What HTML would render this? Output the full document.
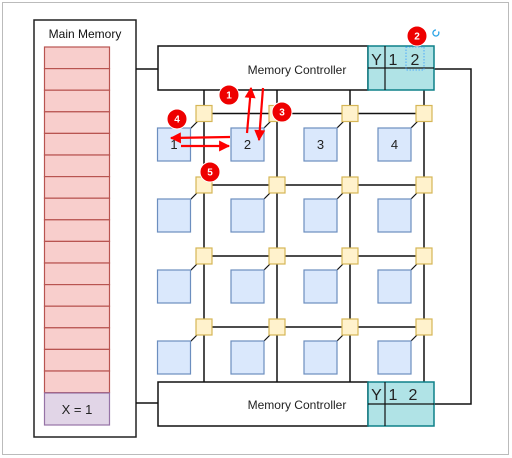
<!DOCTYPE html>
<html><head><style>body{margin:0;background:#fff}svg{display:block}text{font-family:"Liberation Sans",sans-serif}</style></head><body>
<svg width="512" height="458" viewBox="0 0 512 458" xmlns="http://www.w3.org/2000/svg">
<defs><marker id="ah" viewBox="0 0 10 10" refX="9" refY="5" markerWidth="5.5" markerHeight="5" orient="auto"><path d="M0,0L10,5L0,10z" fill="#f00"/></marker></defs>
<rect x="2.5" y="2.5" width="506" height="452" fill="#fff" stroke="#bbb"/>
<rect x="34" y="20" width="102" height="417" fill="#fff" stroke="#222" stroke-width="1.5"/>
<text x="85" y="38" font-size="12" text-anchor="middle" fill="#111">Main Memory</text>
<g fill="#f8cecc" stroke="#b85450" stroke-width="1.2">
<rect x="44.5" y="47" width="65" height="21.6"/><rect x="44.5" y="68.6" width="65" height="21.6"/><rect x="44.5" y="90.2" width="65" height="21.6"/><rect x="44.5" y="111.8" width="65" height="21.6"/><rect x="44.5" y="133.4" width="65" height="21.6"/><rect x="44.5" y="155" width="65" height="21.6"/><rect x="44.5" y="176.6" width="65" height="21.6"/><rect x="44.5" y="198.2" width="65" height="21.6"/><rect x="44.5" y="219.8" width="65" height="21.6"/><rect x="44.5" y="241.4" width="65" height="21.6"/><rect x="44.5" y="263" width="65" height="21.6"/><rect x="44.5" y="284.6" width="65" height="21.6"/><rect x="44.5" y="306.2" width="65" height="21.6"/><rect x="44.5" y="327.8" width="65" height="21.6"/><rect x="44.5" y="349.4" width="65" height="21.6"/><rect x="44.5" y="371" width="65" height="21.6"/>
</g>
<rect x="44.5" y="393" width="65" height="32" fill="#e1d5e7" stroke="#9673a6" stroke-width="1.2"/>
<text x="77" y="414" font-size="13" text-anchor="middle" fill="#222">X = 1</text>
<g stroke="#111" stroke-width="1.5" fill="none">
<path d="M136 69H158M136 403H158M434 69H471V404H434"/>
<path d="M204 90V382M277 90V382M350 90V382M424 90V382M204 113.5H424M204 185H424M204 256H424M204 327H424"/>
</g>
<rect x="158" y="46" width="210" height="44" fill="#fff" stroke="#111" stroke-width="1.5"/>
<text x="297" y="74" font-size="12" text-anchor="middle" fill="#222">Memory Controller</text>
<rect x="368" y="46" width="66" height="44" fill="#b0e3e6" stroke="#0e8088" stroke-width="1.5"/>
<path d="M385 46V90M368 68H434" stroke="#111" stroke-width="1.2"/>
<text x="376.5" y="65" font-size="16" text-anchor="middle" fill="#222">Y</text>
<text x="393" y="65" font-size="16" text-anchor="middle" fill="#222">1</text>
<text x="415" y="65" font-size="16" text-anchor="middle" fill="#222">2</text>
<rect x="406" y="47" width="18" height="23" fill="none" stroke="#3399ff" stroke-dasharray="1.5,1.5" stroke-width="0.8"/>
<rect x="158" y="382" width="210" height="44" fill="#fff" stroke="#111" stroke-width="1.5"/>
<text x="297" y="409" font-size="12" text-anchor="middle" fill="#222">Memory Controller</text>
<rect x="368" y="382" width="66" height="44" fill="#b0e3e6" stroke="#0e8088" stroke-width="1.5"/>
<path d="M385 382V426M368 404H434" stroke="#111" stroke-width="1.2"/>
<text x="376.5" y="400" font-size="16" text-anchor="middle" fill="#222">Y</text>
<text x="393" y="400" font-size="16" text-anchor="middle" fill="#222">1</text>
<text x="413" y="400" font-size="16" text-anchor="middle" fill="#222">2</text>
<g stroke="#111" stroke-width="1.2"><path d="M190 129L198 121M263 129L271 121M336 129L344 121M410 129L418 121M190 200L198 192M263 200L271 192M336 200L344 192M410 200L418 192M190 271L198 263M263 271L271 263M336 271L344 263M410 271L418 263M190 342L198 334M263 342L271 334M336 342L344 334M410 342L418 334"/></g>
<g fill="#dae8fc" stroke="#6c8ebf" stroke-width="1.2">
<rect x="157.5" y="128" width="33" height="33"/><rect x="231" y="128" width="33" height="33"/><rect x="304" y="128" width="33" height="33"/><rect x="378" y="128" width="33" height="33"/>
<rect x="157.5" y="199" width="33" height="33"/><rect x="231" y="199" width="33" height="33"/><rect x="304" y="199" width="33" height="33"/><rect x="378" y="199" width="33" height="33"/>
<rect x="157.5" y="270" width="33" height="33"/><rect x="231" y="270" width="33" height="33"/><rect x="304" y="270" width="33" height="33"/><rect x="378" y="270" width="33" height="33"/>
<rect x="157.5" y="341" width="33" height="33"/><rect x="231" y="341" width="33" height="33"/><rect x="304" y="341" width="33" height="33"/><rect x="378" y="341" width="33" height="33"/>
</g>
<g fill="#fff2cc" stroke="#d6b656" stroke-width="1.2">
<rect x="196" y="105.5" width="16" height="16"/><rect x="269" y="105.5" width="16" height="16"/><rect x="342" y="105.5" width="16" height="16"/><rect x="416" y="105.5" width="16" height="16"/>
<rect x="196" y="177" width="16" height="16"/><rect x="269" y="177" width="16" height="16"/><rect x="342" y="177" width="16" height="16"/><rect x="416" y="177" width="16" height="16"/>
<rect x="196" y="248" width="16" height="16"/><rect x="269" y="248" width="16" height="16"/><rect x="342" y="248" width="16" height="16"/><rect x="416" y="248" width="16" height="16"/>
<rect x="196" y="319" width="16" height="16"/><rect x="269" y="319" width="16" height="16"/><rect x="342" y="319" width="16" height="16"/><rect x="416" y="319" width="16" height="16"/>
</g>
<g font-size="13" text-anchor="middle" fill="#222"><text x="174" y="149">1</text><text x="247.5" y="149">2</text><text x="320.5" y="149">3</text><text x="394.5" y="149">4</text></g>
<g stroke="#f00" stroke-width="2.2" fill="none" marker-end="url(#ah)">
<path d="M247 133L251 88"/><path d="M263 88L259 140"/><path d="M230 137L171 138"/><path d="M181 146L229 146"/>
</g>
<g fill="#e00" stroke="#fff" stroke-width="1">
<circle cx="229" cy="95" r="10"/><circle cx="417" cy="36" r="10"/><circle cx="282" cy="112" r="10"/><circle cx="177" cy="119" r="10"/><circle cx="210" cy="172" r="10"/>
</g>
<g font-size="10" font-weight="bold" fill="#fff" text-anchor="middle">
<text x="229" y="98.5">1</text><text x="417" y="39.5">2</text><text x="282" y="115.5">3</text><text x="177" y="122.5">4</text><text x="210" y="175.5">5</text>
</g>
<path d="M438.5 31.5A3 3 0 1 1 436 30" fill="none" stroke="#29a3e6" stroke-width="1.3"/>
</svg>
</body></html>
